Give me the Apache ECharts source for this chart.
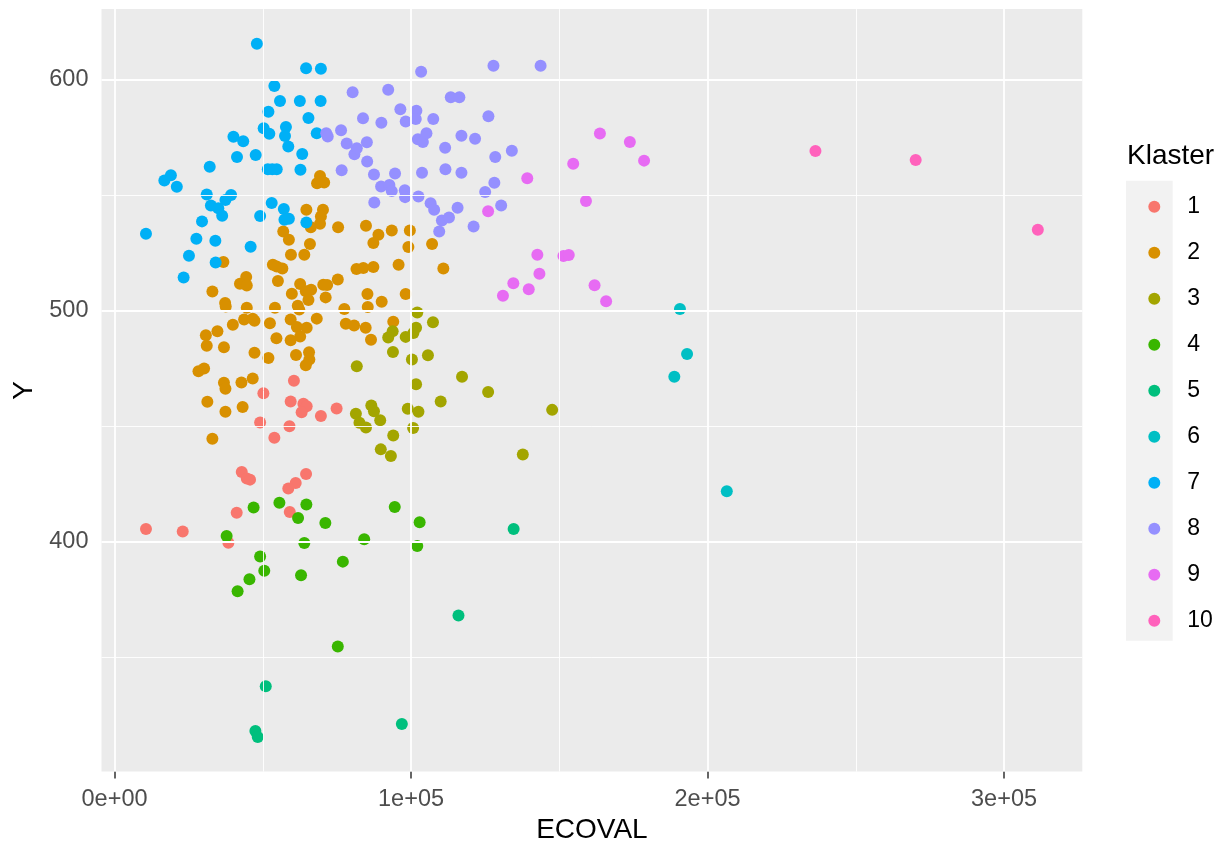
<!DOCTYPE html>
<html>
<head>
<meta charset="utf-8">
<script src="https://cdn.jsdelivr.net/npm/echarts@6/dist/echarts.min.js"></script>
<style>html,body{margin:0;padding:0;background:#fff}#c{width:1228px;height:846px}</style>
</head>
<body>
<div id="c"></div>
<script>
// ---- data (ECOVAL, Y) per cluster ----
const clusterNames = ['1','2','3','4','5','6','7','8','9','10'];
const clusterColors = ['#F8766D','#D89000','#A3A500','#39B600','#00BF7D','#00BFC4','#00B0F6','#9590FF','#E76BF3','#FF62BC'];

const k1 = [[60500,469.8],[50200,464.4],[59400,460.8],[63700,459.8],[64800,458.8],[63100,456.2],[69600,454.5],[74900,457.8],[49100,451.7],[59000,450.1],[53900,445.1],[42900,430.3],[44600,427.5],[45700,427.0],[64600,429.4],[61100,425.5],[58600,423.2],[59100,413.0],[41200,412.7],[10600,405.6],[23000,404.5],[38400,399.7]];

const k2 = [[69300,558.5],[70700,555.6],[68300,555.3],[64700,543.8],[70300,543.8],[69600,540.9],[36700,521.2],[56900,534.4],[58800,530.8],[65900,529.0],[59500,524.4],[64000,524.4],[75400,536.3],[69300,537.8],[66200,536.3],[53400,520.0],[56600,518.4],[54700,519.3],[81600,518.2],[44400,514.7],[42300,511.8],[44600,511.0],[55100,513.0],[62600,511.7],[66300,509.2],[59800,507.5],[64500,508.5],[65400,504.8],[70400,511.4],[71700,511.3],[75300,513.6],[71200,505.9],[33000,508.4],[37300,503.5],[37500,502.0],[44600,501.4],[54100,501.4],[61800,502.3],[62300,500.6],[77500,500.9],[43700,496.3],[46600,496.7],[47200,495.8],[52400,494.7],[39900,494.1],[59400,496.3],[61500,493.1],[64800,492.7],[68200,496.7],[62600,489.0],[59400,487.3],[78000,494.5],[80800,493.7],[34700,491.2],[30800,489.5],[31100,485.0],[54600,488.2],[36900,484.3],[47200,481.9],[51900,479.7],[61200,481.0],[65600,482.1],[65700,479.0],[64500,476.5],[28300,473.9],[30200,475.1],[36900,468.9],[37400,466.3],[42800,469.0],[46600,470.8],[31300,460.7],[37400,456.4],[43200,458.4],[33000,444.7],[84800,536.9],[93500,534.9],[99600,534.9],[89000,533.0],[87300,529.4],[99100,527.7],[107100,529.0],[83900,518.6],[87300,519.0],[95800,520.0],[110900,518.4],[85300,507.4],[85400,501.7],[90100,504.0],[98200,507.4],[84700,492.7],[94000,495.4],[86500,487.6]];

const k3 = [[81700,476.1],[102100,499.4],[107400,495.1],[93800,491.2],[92300,488.5],[101700,492.7],[100800,490.5],[98200,488.8],[93900,482.3],[100300,479.0],[105700,480.8],[101700,468.3],[117200,471.5],[126000,464.9],[110000,460.8],[147600,457.2],[81400,455.5],[86600,459.1],[87500,456.6],[89600,452.7],[82600,451.6],[84800,449.6],[98900,457.7],[102500,456.4],[94000,446.1],[100700,449.4],[89800,440.1],[93200,437.2],[137700,437.9]];

const k4 = [[37800,402.6],[46900,414.9],[55600,417.0],[64700,416.2],[61900,410.4],[71100,408.2],[64000,399.6],[49100,393.7],[50500,387.6],[45500,383.9],[41500,378.7],[62900,385.6],[77000,391.5],[94500,415.2],[102900,408.5],[84200,401.2],[102100,398.3],[75300,354.8]];

const k5 = [[134600,405.6],[116000,368.2],[51000,337.5],[47500,318.2],[48300,315.6],[96900,321.2]];

const k6 = [[190700,500.9],[193100,481.4],[188800,471.5],[206500,422.0]];

const k7 = [[48000,615.7],[64600,605.1],[69600,604.9],[53900,597.4],[55800,590.9],[62500,590.9],[69500,590.9],[51900,586.3],[65400,583.6],[50300,579.1],[52200,576.7],[57800,579.7],[57500,575.8],[68200,577.0],[40100,575.4],[43400,573.5],[58600,571.2],[41300,566.7],[47600,567.5],[63300,568.0],[32100,562.5],[51700,561.4],[53200,561.4],[54700,561.4],[62700,561.2],[16800,556.5],[19000,558.8],[21000,553.8],[31100,550.4],[39300,550.2],[37400,548.1],[32500,545.7],[35000,544.5],[36300,541.2],[29500,538.8],[49100,541.1],[53000,546.8],[57100,544.2],[58800,539.9],[57300,539.5],[64700,538.3],[10600,533.4],[27600,531.3],[34000,530.4],[45900,527.8],[25100,523.9],[34100,521.0],[23300,514.5]];

const k8 = [[71400,577.0],[71900,575.5],[76400,578.3],[78300,572.5],[80300,594.7],[80900,567.9],[81700,570.5],[76600,560.9],[103400,603.6],[127800,606.2],[143700,606.2],[92300,595.8],[113400,592.5],[116300,592.5],[96400,587.3],[101800,586.7],[101600,583.1],[98200,582.0],[107500,583.1],[83800,583.4],[90000,581.5],[126100,584.3],[85100,573.1],[85200,564.7],[102300,574.4],[104000,573.2],[105200,577.0],[111500,570.7],[117000,575.9],[121600,574.6],[128400,566.7],[134000,569.4],[87500,559.1],[94600,559.5],[103700,559.9],[111600,561.4],[117000,559.9],[89900,553.9],[92700,554.6],[93500,551.9],[97900,552.3],[98000,549.3],[102500,549.6],[87600,547.0],[106600,546.7],[107800,543.8],[110400,539.2],[112800,540.5],[115700,544.7],[121100,536.6],[125000,551.5],[128100,555.5],[130400,545.7],[109500,534.4]];

const k9 = [[139200,557.5],[126000,543.2],[142600,524.4],[151400,523.8],[153200,524.2],[143300,516.1],[134500,512.0],[139700,509.4],[131000,506.6],[163700,576.8],[173800,573.2],[178600,565.1],[154700,563.8],[159000,547.6],[161900,511.1],[165800,504.2]];

const k10 = [[236400,569.3],[270200,565.4],[311400,535.2]];

const clusters = [k1,k2,k3,k4,k5,k6,k7,k8,k9,k10];

// ---- axis settings ----
const xRange = [-4400, 326400];
const yRange = [300.6, 630.7];
const xBreaks = [0, 100000, 200000, 300000];
const xMinor = [50000, 150000, 250000];
const yBreaks = [400, 500, 600];
const yMinor = [350, 450, 550];

function sci(v){
  if (v === 0) return '0e+00';
  const e = Math.floor(Math.log10(Math.abs(v)));
  const m = v / Math.pow(10, e);
  return m + 'e+' + String(e).padStart(2,'0');
}

const FONT = 'Liberation Sans, Arial, Helvetica, sans-serif';

const gridLines = [];
xMinor.forEach(v => gridLines.push({xAxis: v, lineStyle: {width: 0.9}}));
yMinor.forEach(v => gridLines.push({yAxis: v, lineStyle: {width: 0.9}}));
xBreaks.forEach(v => gridLines.push({xAxis: v, lineStyle: {width: 1.8}}));
yBreaks.forEach(v => gridLines.push({yAxis: v, lineStyle: {width: 1.8}}));

const series = [{
  type: 'scatter', name: '_grid', data: [], z: 1, silent: true,
  markLine: {
    silent: true, symbol: ['none','none'], animation: false,
    label: {show: false},
    lineStyle: {color: '#FFFFFF', type: 'solid'},
    emphasis: {disabled: true},
    data: gridLines
  }
}];
clusters.forEach((d, i) => {
  series.push({
    type: 'scatter', name: clusterNames[i], data: d, z: 3,
    symbol: 'circle', symbolSize: 12,
    itemStyle: {color: clusterColors[i], opacity: 1},
    animation: false
  });
});

const chart = echarts.init(document.getElementById('c'), null, {renderer: 'canvas'});
chart.setOption({
  animation: false,
  backgroundColor: '#FFFFFF',
  textStyle: {fontFamily: FONT},
  grid: {left: 101.5, right: 145.7, top: 9.1, bottom: 74.4, show: true, backgroundColor: '#EBEBEB', borderWidth: 0,
         containLabel: false, outerBoundsMode: 'none'},
  xAxis: {
    type: 'value', min: xRange[0], max: xRange[1],
    name: 'ECOVAL', nameLocation: 'middle', nameGap: 38,
    nameTextStyle: {fontSize: 28, color: '#000000', fontFamily: FONT},
    axisLine: {show: false},
    splitLine: {show: false},
    axisTick: {show: true, length: 7, lineStyle: {color: '#333333', width: 1.5}, customValues: xBreaks},
    axisLabel: {customValues: xBreaks, formatter: sci, fontSize: 23.5, color: '#4D4D4D', margin: 16, fontFamily: FONT}
  },
  yAxis: {
    type: 'value', min: yRange[0], max: yRange[1],
    name: 'Y', nameLocation: 'middle', nameGap: 57, nameRotate: 90,
    nameTextStyle: {fontSize: 28, color: '#000000', fontFamily: FONT},
    axisLine: {show: false},
    splitLine: {show: false},
    axisTick: {show: true, length: 7, lineStyle: {color: '#333333', width: 1.5}, customValues: yBreaks},
    axisLabel: {customValues: yBreaks, fontSize: 23.5, color: '#4D4D4D', margin: 13, fontFamily: FONT}
  },
  legend: {
    data: clusterNames, orient: 'vertical', left: 1143.3, top: 189.7,
    itemWidth: 12, itemHeight: 12, itemGap: 22, icon: 'circle',
    selectedMode: false,
    textStyle: {fontSize: 23, lineHeight: 24, color: '#000000', fontFamily: FONT, padding: [0,0,0,22]}
  },
  graphic: [
    {type: 'rect', left: 1126, top: 180.7, z: -1, shape: {width: 46.7, height: 460}, style: {fill: '#F2F2F2'}},
    {type: 'text', left: 1127, top: 142, style: {text: 'Klaster', fontSize: 28, fill: '#000000', fontFamily: FONT}}
  ],
  series: series
});
</script>
</body>
</html>
